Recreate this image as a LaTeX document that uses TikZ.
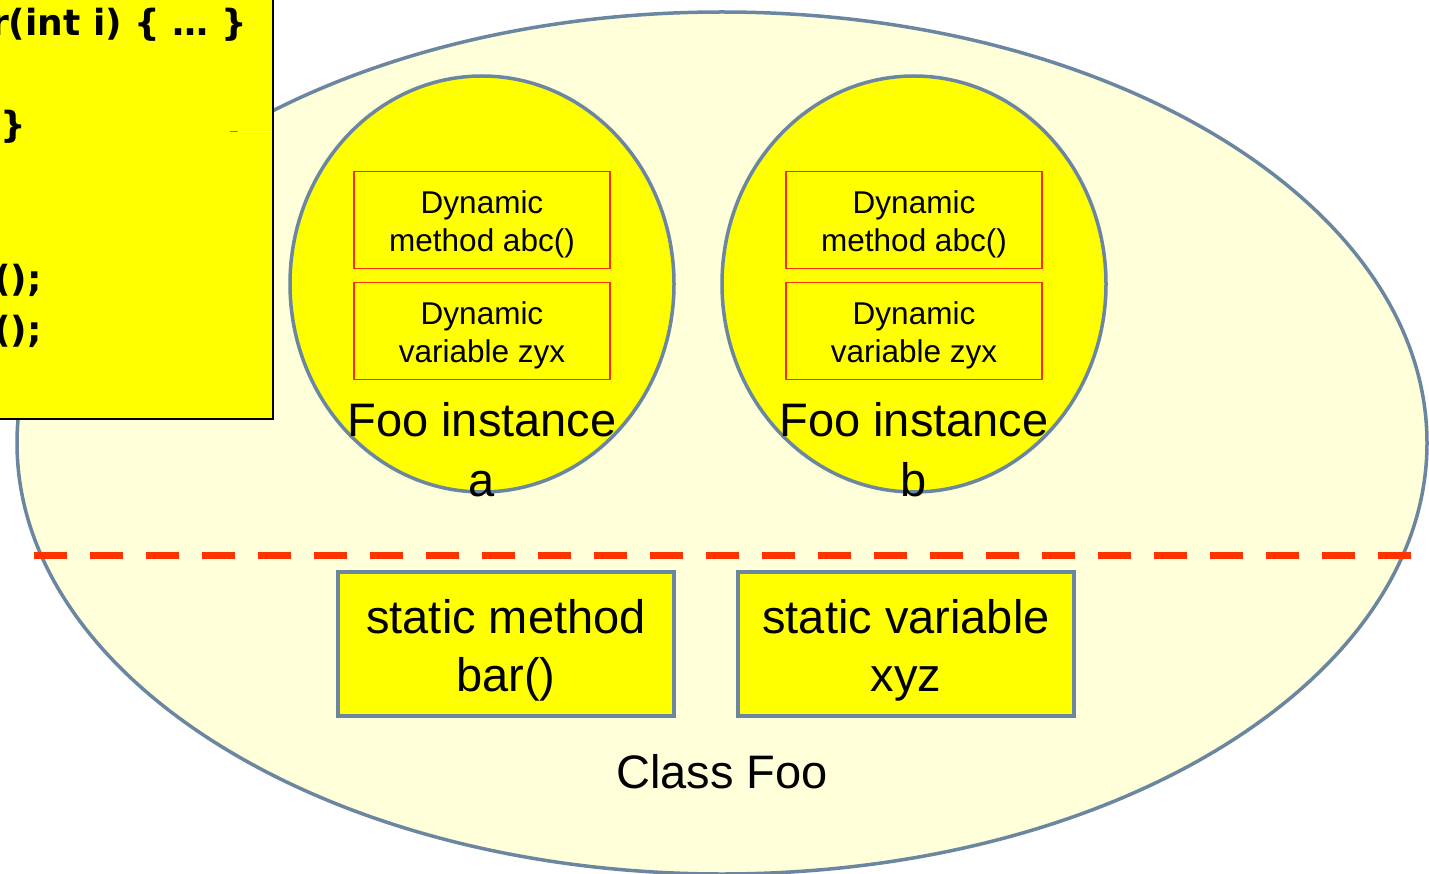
\documentclass[tikz,border=0pt]{standalone}
\usepackage{fontspec}
\setmainfont{Liberation Sans}
\newfontfamily\codefont{DejaVu Sans}
\usetikzlibrary{shapes.geometric}
\definecolor{classfill}{HTML}{FFFFD9}
\definecolor{slate}{HTML}{6B86A0}
\definecolor{boxyellow}{HTML}{FFFF00}
\definecolor{boxred}{HTML}{FF2A00}
\definecolor{divider}{HTML}{FF3300}
\tikzset{
  classshape/.style={ellipse, draw=slate, line width=3.5pt, fill=classfill, inner sep=0pt},
  instshape/.style={ellipse, draw=slate, line width=3.5pt, fill=boxyellow, inner sep=0pt,
    minimum width=384pt, minimum height=416pt},
  membox/.style={draw=boxred, line width=1.8pt, fill=boxyellow, inner sep=0pt,
    minimum width=256pt, minimum height=97pt},
  memtext/.style={align=center, inner sep=0pt, font=\fontsize{31.5}{38}\selectfont},
  staticbox/.style={draw=slate, line width=3.5pt, fill=boxyellow, inner sep=0pt,
    minimum width=336pt, minimum height=144pt},
  biglabel/.style={align=center, inner sep=0pt, font=\fontsize{47}{60}\selectfont},
  statictext/.style={align=center, inner sep=0pt, font=\fontsize{47}{58}\selectfont},
  codeline/.style={anchor=base east, inner sep=0pt, font=\codefont\bfseries\fontsize{36}{50}\selectfont},
  codebox/.style={draw=black, line width=2.5pt, fill=boxyellow},
  dividerline/.style={draw=divider, line width=7pt, dash pattern=on 33pt off 23pt}
}
\begin{document}
\begin{tikzpicture}[x=1pt, y=-1pt]
  \useasboundingbox (0,0) rectangle (1429,874);
  \clip (0,0) rectangle (1429,874);
  \fill[white] (0,0) rectangle (1429,874);

  % the class
  \node[classshape, minimum width=1410pt, minimum height=862pt] (cls) at (722,443) {};

  % instances
  \node[instshape] (insta) at (482,284) {};
  \node[instshape] (instb) at (914,284) {};

  \node[membox] (amethod) at (482,220) {};
  \node[membox] (avar)    at (482,331) {};
  \node[membox] (bmethod) at (914,220) {};
  \node[membox] (bvar)    at (914,331) {};
  \node[memtext] (amtext) at (482,224) {Dynamic\\method abc()};
  \node[memtext] (avtext) at (482,335) {Dynamic\\variable zyx};
  \node[memtext] (bmtext) at (914,224) {Dynamic\\method abc()};
  \node[memtext] (bvtext) at (914,335) {Dynamic\\variable zyx};

  \node[biglabel] (alabel) at (482,450) {Foo instance\\a};
  \node[biglabel] (blabel) at (914,450) {Foo instance\\b};

  % static / dynamic divider
  \coordinate (divl) at (34,555);
  \coordinate (divr) at (1412,555);
  \draw[dividerline] (divl) -- (divr);

  % static members
  \node[staticbox] (smethod) at (506,644) {};
  \node[staticbox] (svar)    at (906,644) {};
  \node[statictext] (smtext) at (506,650) {static method\\bar()};
  \node[statictext] (svtext) at (906,650) {static variable\\xyz};

  \node[biglabel] (clslabel) at (722,772) {Class Foo};

  % code listing
  \node[codebox, anchor=south east, minimum width=290pt, minimum height=440pt] (code) at (274,420) {};
  \coordinate (tickl) at (230,132);
  \coordinate (tickm) at (238,132);
  \coordinate (tickr) at (272,132);
  \draw[slate, line width=1pt] (tickl) -- (tickm);
  \draw[white, line width=1pt] (tickm) -- (tickr);
  \node[codeline] (c1) at (247,36) {r(int i) \{ … \}};
  \node[codeline] (c2) at (26,138) {\}};
  \node[codeline] (c3) at (42,292) {();};
  \node[codeline] (c4) at (42,342) {();};
\end{tikzpicture}
\end{document}
